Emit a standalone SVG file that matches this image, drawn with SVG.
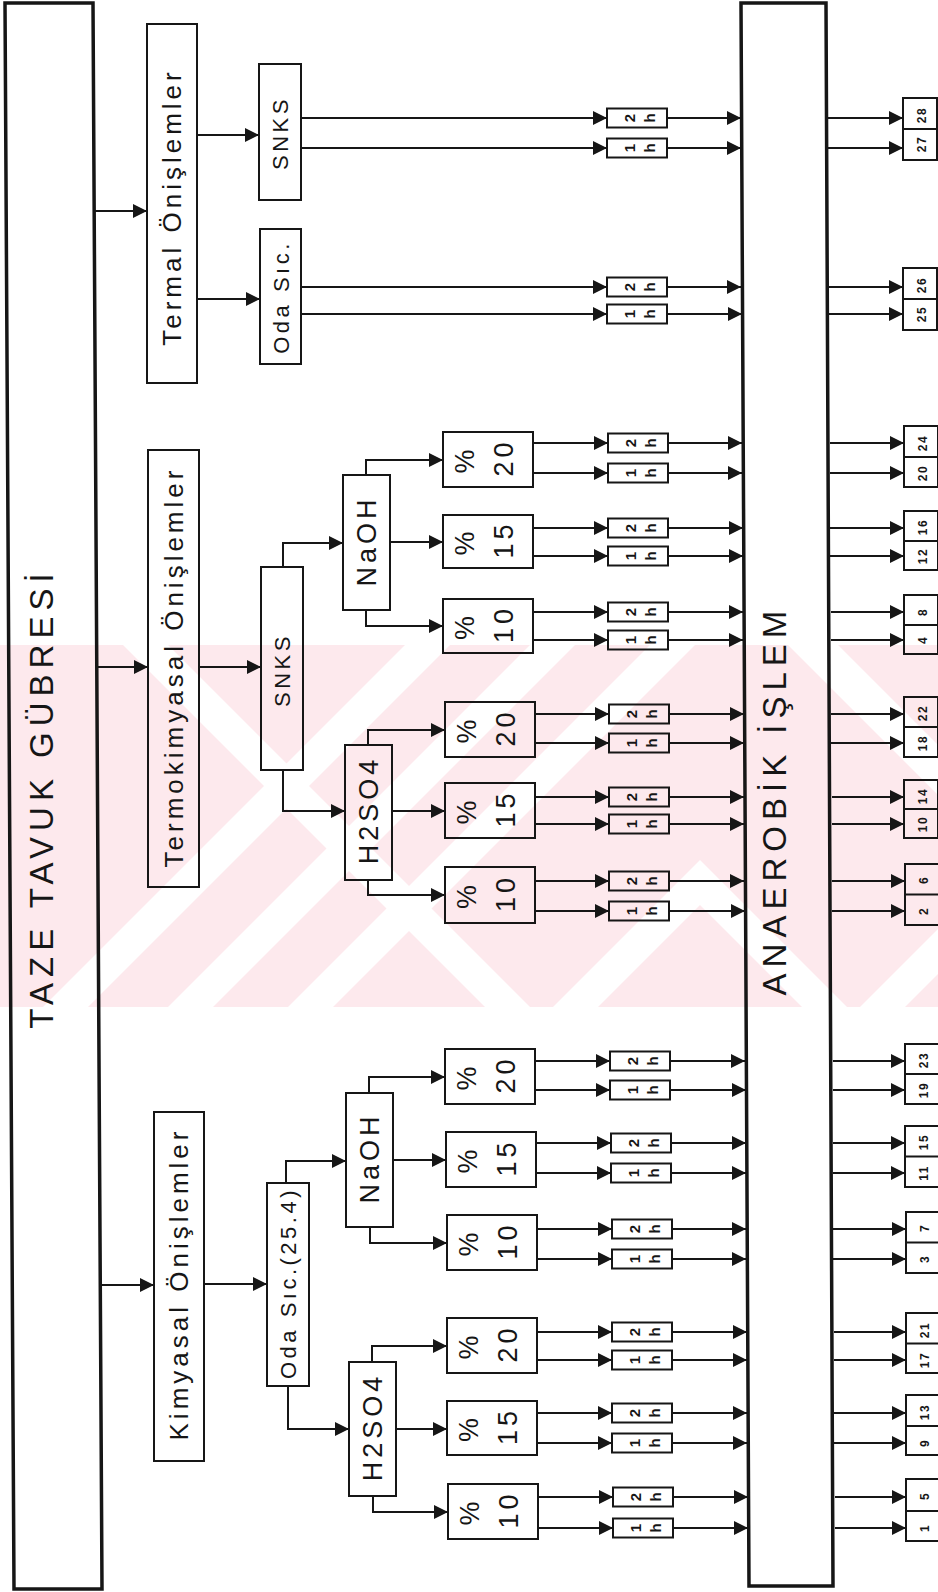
<svg xmlns="http://www.w3.org/2000/svg" width="938" height="1592" viewBox="0 0 938 1592">
<defs>
<marker id="ah" markerUnits="userSpaceOnUse" markerWidth="14" markerHeight="14" refX="14" refY="7" orient="auto"><path d="M0,0 L14,7 L0,14 z" fill="#161616"/></marker>
<clipPath id="wmclip"><rect x="0" y="645" width="938" height="362"/></clipPath>
</defs>
<style>
.b{fill:none;stroke:#161616;stroke-width:2}
.B{fill:none;stroke:#161616;stroke-width:3.5}
.l{fill:none;stroke:#161616;stroke-width:2}
.a{fill:none;stroke:#161616;stroke-width:2;marker-end:url(#ah)}
text{font-family:"Liberation Sans",Arial,sans-serif;fill:#161616;text-anchor:middle;dominant-baseline:central}
.big{font-size:33px;letter-spacing:6px}
.mid{font-size:26px;letter-spacing:4px}
.sm{font-size:22px;letter-spacing:3.5px}
.ch{font-size:27px;letter-spacing:4px}
.h{font-size:15px;font-weight:bold}
.n{font-size:12px;font-weight:bold;letter-spacing:1.5px}
</style>
<rect x="0" y="0" width="938" height="1592" fill="#ffffff"/>
<g id="watermark" clip-path="url(#wmclip)">
<rect x="0" y="645" width="938" height="362" fill="#fde9ed"/>
<g fill="#ffffff">
<polygon points="405,645 450,645 88,1007 43,1007"/>
<polygon points="530,645 575,645 213,1007 168,1007"/>
<polygon points="650,645 695,645 333,1007 288,1007"/>
<polygon points="123,645 168,645 530,1007 485,1007"/>
<polygon points="788,645 838,645 1200,1007 1150,1007"/>
<polygon points="553,1007 700,860 847,1007 802,1007 700,905 598,1007"/>
<polygon points="860,1007 905,1007 1267,645 1222,645"/>
</g>
</g>

<g id="connectors">
<line class="a" x1="94" y1="211" x2="147" y2="211"/>
<line class="a" x1="197" y1="135" x2="259" y2="135"/>
<line class="a" x1="197" y1="299" x2="260" y2="299"/>
<line class="a" x1="97" y1="667" x2="148" y2="667"/>
<line class="a" x1="199" y1="667" x2="261" y2="667"/>
<line class="a" x1="101" y1="1285" x2="154" y2="1285"/>
<line class="a" x1="204" y1="1284" x2="267" y2="1284"/>
<path class="a" d="M283,567 V543 H343"/>
<path class="a" d="M283,770 V811 H345"/>
<path class="a" d="M366,475 V460 H443"/>
<line class="a" x1="390" y1="542" x2="443" y2="542"/>
<path class="a" d="M366,610 V626 H443"/>
<path class="a" d="M368,745 V730 H445"/>
<line class="a" x1="392" y1="811" x2="445" y2="811"/>
<path class="a" d="M368,880 V895 H445"/>
<path class="a" d="M286,1183 V1161 H346"/>
<path class="a" d="M288,1386 V1429 H349"/>
<path class="a" d="M369,1093 V1077 H445"/>
<line class="a" x1="393" y1="1160" x2="446" y2="1160"/>
<path class="a" d="M370,1227 V1243 H447"/>
<path class="a" d="M372,1362 V1346 H447"/>
<line class="a" x1="396" y1="1429" x2="447" y2="1429"/>
<path class="a" d="M373,1496 V1512 H448"/>

<line class="a" x1="301" y1="118" x2="607" y2="118"/><line class="a" x1="667" y1="118" x2="741" y2="118"/><line class="a" x1="828" y1="118" x2="903" y2="118"/>
<line class="a" x1="301" y1="148" x2="607" y2="148"/><line class="a" x1="667" y1="148" x2="741" y2="148"/><line class="a" x1="828" y1="148" x2="903" y2="148"/>
<line class="a" x1="301" y1="287" x2="607" y2="287"/><line class="a" x1="667" y1="287" x2="741" y2="287"/><line class="a" x1="829" y1="287" x2="903" y2="287"/>
<line class="a" x1="301" y1="314" x2="607" y2="314"/><line class="a" x1="667" y1="314" x2="742" y2="314"/><line class="a" x1="829" y1="314" x2="903" y2="314"/>

<line class="a" x1="533" y1="443" x2="608" y2="443"/><line class="a" x1="668" y1="443" x2="742" y2="443"/><line class="a" x1="830" y1="443" x2="904" y2="443"/>
<line class="a" x1="533" y1="473" x2="608" y2="473"/><line class="a" x1="668" y1="473" x2="742" y2="473"/><line class="a" x1="830" y1="473" x2="904" y2="473"/>
<line class="a" x1="533" y1="528" x2="608" y2="528"/><line class="a" x1="668" y1="528" x2="743" y2="528"/><line class="a" x1="830" y1="528" x2="904" y2="528"/>
<line class="a" x1="533" y1="556" x2="608" y2="556"/><line class="a" x1="668" y1="556" x2="743" y2="556"/><line class="a" x1="830" y1="556" x2="904" y2="556"/>
<line class="a" x1="533" y1="612" x2="608" y2="612"/><line class="a" x1="668" y1="612" x2="743" y2="612"/><line class="a" x1="831" y1="612" x2="904" y2="612"/>
<line class="a" x1="533" y1="640" x2="608" y2="640"/><line class="a" x1="668" y1="640" x2="743" y2="640"/><line class="a" x1="831" y1="640" x2="904" y2="640"/>

<line class="a" x1="535" y1="714" x2="609" y2="714"/><line class="a" x1="669" y1="714" x2="744" y2="714"/><line class="a" x1="831" y1="714" x2="904" y2="714"/>
<line class="a" x1="535" y1="743" x2="609" y2="743"/><line class="a" x1="669" y1="743" x2="744" y2="743"/><line class="a" x1="831" y1="743" x2="904" y2="743"/>
<line class="a" x1="535" y1="797" x2="609" y2="797"/><line class="a" x1="669" y1="797" x2="744" y2="797"/><line class="a" x1="832" y1="797" x2="904" y2="797"/>
<line class="a" x1="535" y1="824" x2="609" y2="824"/><line class="a" x1="669" y1="824" x2="744" y2="824"/><line class="a" x1="832" y1="824" x2="904" y2="824"/>
<line class="a" x1="535" y1="881" x2="609" y2="881"/><line class="a" x1="669" y1="881" x2="744" y2="881"/><line class="a" x1="832" y1="881" x2="905" y2="881"/>
<line class="a" x1="535" y1="911" x2="609" y2="911"/><line class="a" x1="669" y1="911" x2="745" y2="911"/><line class="a" x1="832" y1="911" x2="905" y2="911"/>

<line class="a" x1="535" y1="1061" x2="610" y2="1061"/><line class="a" x1="670" y1="1061" x2="745" y2="1061"/><line class="a" x1="833" y1="1061" x2="905" y2="1061"/>
<line class="a" x1="535" y1="1090" x2="610" y2="1090"/><line class="a" x1="670" y1="1090" x2="746" y2="1090"/><line class="a" x1="833" y1="1090" x2="905" y2="1090"/>
<line class="a" x1="536" y1="1143" x2="611" y2="1143"/><line class="a" x1="671" y1="1143" x2="746" y2="1143"/><line class="a" x1="833" y1="1143" x2="905" y2="1143"/>
<line class="a" x1="536" y1="1173" x2="611" y2="1173"/><line class="a" x1="671" y1="1173" x2="746" y2="1173"/><line class="a" x1="833" y1="1173" x2="905" y2="1173"/>
<line class="a" x1="537" y1="1229" x2="612" y2="1229"/><line class="a" x1="672" y1="1229" x2="746" y2="1229"/><line class="a" x1="833" y1="1229" x2="906" y2="1229"/>
<line class="a" x1="537" y1="1259" x2="612" y2="1259"/><line class="a" x1="672" y1="1259" x2="746" y2="1259"/><line class="a" x1="833" y1="1259" x2="906" y2="1259"/>

<line class="a" x1="537" y1="1332" x2="612" y2="1332"/><line class="a" x1="672" y1="1332" x2="747" y2="1332"/><line class="a" x1="834" y1="1332" x2="906" y2="1332"/>
<line class="a" x1="537" y1="1360" x2="612" y2="1360"/><line class="a" x1="672" y1="1360" x2="747" y2="1360"/><line class="a" x1="834" y1="1360" x2="906" y2="1360"/>
<line class="a" x1="537" y1="1413" x2="612" y2="1413"/><line class="a" x1="672" y1="1413" x2="747" y2="1413"/><line class="a" x1="834" y1="1413" x2="906" y2="1413"/>
<line class="a" x1="537" y1="1443" x2="612" y2="1443"/><line class="a" x1="672" y1="1443" x2="747" y2="1443"/><line class="a" x1="834" y1="1443" x2="906" y2="1443"/>
<line class="a" x1="538" y1="1497" x2="613" y2="1497"/><line class="a" x1="673" y1="1497" x2="748" y2="1497"/><line class="a" x1="835" y1="1497" x2="906" y2="1497"/>
<line class="a" x1="538" y1="1528" x2="613" y2="1528"/><line class="a" x1="673" y1="1528" x2="748" y2="1528"/><line class="a" x1="835" y1="1528" x2="906" y2="1528"/>
</g>

<g id="taze"><polygon class="B" points="5,3 93,3 102,1589 14,1589"/><text class="big" x="41" y="798" transform="rotate(-90 41 798)">TAZE TAVUK GÜBRESİ</text></g>
<g id="anaerobik"><polygon class="B" points="741,3 826,3 833,1586 749,1586"/><text class="big" x="774" y="800" transform="rotate(-90 774 800)">ANAEROBİK İŞLEM</text></g>

<g id="termal"><rect class="b" x="147" y="24" width="50" height="359"/><text class="mid" x="172" y="207" transform="rotate(-90 172 207)">Termal Önişlemler</text></g>
<g id="termal-snks"><rect class="b" x="259" y="64" width="42" height="136"/><text class="sm" x="280" y="133" transform="rotate(-90 280 133)">SNKS</text></g>
<g id="termal-oda"><rect class="b" x="260" y="229" width="41" height="135"/><text class="sm" x="281" y="297" transform="rotate(-90 281 297)">Oda Sıc.</text></g>

<g id="termokimyasal"><rect class="b" x="148" y="450" width="51" height="437"/><text class="mid" x="174" y="667" transform="rotate(-90 174 667)">Termokimyasal Önişlemler</text></g>
<g id="termo-snks"><rect class="b" x="261" y="567" width="42" height="203"/><text class="sm" x="282" y="670" transform="rotate(-90 282 670)">SNKS</text></g>
<g id="termo-naoh"><rect class="b" x="343" y="475" width="47" height="135"/><text class="ch" x="367" y="541" transform="rotate(-90 367 541)">NaOH</text></g>
<g id="termo-h2so4"><rect class="b" x="345" y="745" width="47" height="135"/><text class="ch" x="369" y="810" transform="rotate(-90 369 810)">H2SO4</text></g>

<g id="kimyasal"><rect class="b" x="154" y="1112" width="50" height="349"/><text class="mid" x="179" y="1284" transform="rotate(-90 179 1284)">Kimyasal Önişlemler</text></g>
<g id="kim-oda"><rect class="b" x="267" y="1183" width="42" height="203"/><text class="sm" x="288" y="1283" transform="rotate(-90 288 1283)">Oda Sıc.(25.4)</text></g>
<g id="kim-naoh"><rect class="b" x="346" y="1093" width="47" height="134"/><text class="ch" x="370" y="1158" transform="rotate(-90 370 1158)">NaOH</text></g>
<g id="kim-h2so4"><rect class="b" x="349" y="1362" width="47" height="134"/><text class="ch" x="373" y="1427" transform="rotate(-90 373 1427)">H2SO4</text></g>

<g id="p-t-naoh-20"><rect class="b" x="443" y="432" width="90" height="55"/><text class="ch" x="465" y="459.5" transform="rotate(-90 465 459.5)">%</text><text class="ch" x="504" y="457.5" transform="rotate(-90 504 457.5)">20</text></g>
<g id="p-t-naoh-15"><rect class="b" x="443" y="515" width="90" height="53"/><text class="ch" x="465" y="541.5" transform="rotate(-90 465 541.5)">%</text><text class="ch" x="504" y="539.5" transform="rotate(-90 504 539.5)">15</text></g>
<g id="p-t-naoh-10"><rect class="b" x="443" y="599" width="90" height="54"/><text class="ch" x="465" y="626" transform="rotate(-90 465 626)">%</text><text class="ch" x="504" y="624" transform="rotate(-90 504 624)">10</text></g>
<g id="p-t-h2so4-20"><rect class="b" x="445" y="702" width="90" height="55"/><text class="ch" x="467" y="729.5" transform="rotate(-90 467 729.5)">%</text><text class="ch" x="506" y="727.5" transform="rotate(-90 506 727.5)">20</text></g>
<g id="p-t-h2so4-15"><rect class="b" x="445" y="783" width="90" height="55"/><text class="ch" x="467" y="810.5" transform="rotate(-90 467 810.5)">%</text><text class="ch" x="506" y="808.5" transform="rotate(-90 506 808.5)">15</text></g>
<g id="p-t-h2so4-10"><rect class="b" x="445" y="867" width="90" height="56"/><text class="ch" x="467" y="895" transform="rotate(-90 467 895)">%</text><text class="ch" x="506" y="893" transform="rotate(-90 506 893)">10</text></g>
<g id="p-k-naoh-20"><rect class="b" x="445" y="1049" width="90" height="55"/><text class="ch" x="467" y="1076.5" transform="rotate(-90 467 1076.5)">%</text><text class="ch" x="506" y="1074.5" transform="rotate(-90 506 1074.5)">20</text></g>
<g id="p-k-naoh-15"><rect class="b" x="446" y="1132" width="90" height="55"/><text class="ch" x="468" y="1159.5" transform="rotate(-90 468 1159.5)">%</text><text class="ch" x="507" y="1157.5" transform="rotate(-90 507 1157.5)">15</text></g>
<g id="p-k-naoh-10"><rect class="b" x="447" y="1215" width="90" height="55"/><text class="ch" x="469" y="1242.5" transform="rotate(-90 469 1242.5)">%</text><text class="ch" x="508" y="1240.5" transform="rotate(-90 508 1240.5)">10</text></g>
<g id="p-k-h2so4-20"><rect class="b" x="447" y="1318" width="90" height="55"/><text class="ch" x="469" y="1345.5" transform="rotate(-90 469 1345.5)">%</text><text class="ch" x="508" y="1343.5" transform="rotate(-90 508 1343.5)">20</text></g>
<g id="p-k-h2so4-15"><rect class="b" x="447" y="1401" width="90" height="54"/><text class="ch" x="469" y="1428" transform="rotate(-90 469 1428)">%</text><text class="ch" x="508" y="1426" transform="rotate(-90 508 1426)">15</text></g>
<g id="p-k-h2so4-10"><rect class="b" x="448" y="1484" width="90" height="55"/><text class="ch" x="470" y="1511.5" transform="rotate(-90 470 1511.5)">%</text><text class="ch" x="509" y="1509.5" transform="rotate(-90 509 1509.5)">10</text></g>

<g id="h-28"><rect class="b" x="607" y="108.5" width="60" height="19"/><text class="h" x="629" y="118" transform="rotate(-90 629 118)">2</text><text class="h" x="649" y="118" transform="rotate(-90 649 118)">h</text></g>
<g id="h-27"><rect class="b" x="607" y="138.5" width="60" height="19"/><text class="h" x="629" y="148" transform="rotate(-90 629 148)">1</text><text class="h" x="649" y="148" transform="rotate(-90 649 148)">h</text></g>
<g id="h-26"><rect class="b" x="607" y="277.5" width="60" height="19"/><text class="h" x="629" y="287" transform="rotate(-90 629 287)">2</text><text class="h" x="649" y="287" transform="rotate(-90 649 287)">h</text></g>
<g id="h-25"><rect class="b" x="607" y="304.5" width="60" height="19"/><text class="h" x="629" y="314" transform="rotate(-90 629 314)">1</text><text class="h" x="649" y="314" transform="rotate(-90 649 314)">h</text></g>
<g id="h-24"><rect class="b" x="608" y="433.5" width="60" height="19"/><text class="h" x="630" y="443" transform="rotate(-90 630 443)">2</text><text class="h" x="650" y="443" transform="rotate(-90 650 443)">h</text></g>
<g id="h-20"><rect class="b" x="608" y="463.5" width="60" height="19"/><text class="h" x="630" y="473" transform="rotate(-90 630 473)">1</text><text class="h" x="650" y="473" transform="rotate(-90 650 473)">h</text></g>
<g id="h-16"><rect class="b" x="608" y="518.5" width="60" height="19"/><text class="h" x="630" y="528" transform="rotate(-90 630 528)">2</text><text class="h" x="650" y="528" transform="rotate(-90 650 528)">h</text></g>
<g id="h-12"><rect class="b" x="608" y="546.5" width="60" height="19"/><text class="h" x="630" y="556" transform="rotate(-90 630 556)">1</text><text class="h" x="650" y="556" transform="rotate(-90 650 556)">h</text></g>
<g id="h-8"><rect class="b" x="608" y="602.5" width="60" height="19"/><text class="h" x="630" y="612" transform="rotate(-90 630 612)">2</text><text class="h" x="650" y="612" transform="rotate(-90 650 612)">h</text></g>
<g id="h-4"><rect class="b" x="608" y="630.5" width="60" height="19"/><text class="h" x="630" y="640" transform="rotate(-90 630 640)">1</text><text class="h" x="650" y="640" transform="rotate(-90 650 640)">h</text></g>
<g id="h-22"><rect class="b" x="609" y="704.5" width="60" height="19"/><text class="h" x="631" y="714" transform="rotate(-90 631 714)">2</text><text class="h" x="651" y="714" transform="rotate(-90 651 714)">h</text></g>
<g id="h-18"><rect class="b" x="609" y="733.5" width="60" height="19"/><text class="h" x="631" y="743" transform="rotate(-90 631 743)">1</text><text class="h" x="651" y="743" transform="rotate(-90 651 743)">h</text></g>
<g id="h-14"><rect class="b" x="609" y="787.5" width="60" height="19"/><text class="h" x="631" y="797" transform="rotate(-90 631 797)">2</text><text class="h" x="651" y="797" transform="rotate(-90 651 797)">h</text></g>
<g id="h-10"><rect class="b" x="609" y="814.5" width="60" height="19"/><text class="h" x="631" y="824" transform="rotate(-90 631 824)">1</text><text class="h" x="651" y="824" transform="rotate(-90 651 824)">h</text></g>
<g id="h-6"><rect class="b" x="609" y="871.5" width="60" height="19"/><text class="h" x="631" y="881" transform="rotate(-90 631 881)">2</text><text class="h" x="651" y="881" transform="rotate(-90 651 881)">h</text></g>
<g id="h-2"><rect class="b" x="609" y="901.5" width="60" height="19"/><text class="h" x="631" y="911" transform="rotate(-90 631 911)">1</text><text class="h" x="651" y="911" transform="rotate(-90 651 911)">h</text></g>
<g id="h-23"><rect class="b" x="610" y="1051.5" width="60" height="19"/><text class="h" x="632" y="1061" transform="rotate(-90 632 1061)">2</text><text class="h" x="652" y="1061" transform="rotate(-90 652 1061)">h</text></g>
<g id="h-19"><rect class="b" x="610" y="1080.5" width="60" height="19"/><text class="h" x="632" y="1090" transform="rotate(-90 632 1090)">1</text><text class="h" x="652" y="1090" transform="rotate(-90 652 1090)">h</text></g>
<g id="h-15"><rect class="b" x="611" y="1133.5" width="60" height="19"/><text class="h" x="633" y="1143" transform="rotate(-90 633 1143)">2</text><text class="h" x="653" y="1143" transform="rotate(-90 653 1143)">h</text></g>
<g id="h-11"><rect class="b" x="611" y="1163.5" width="60" height="19"/><text class="h" x="633" y="1173" transform="rotate(-90 633 1173)">1</text><text class="h" x="653" y="1173" transform="rotate(-90 653 1173)">h</text></g>
<g id="h-7"><rect class="b" x="612" y="1219.5" width="60" height="19"/><text class="h" x="634" y="1229" transform="rotate(-90 634 1229)">2</text><text class="h" x="654" y="1229" transform="rotate(-90 654 1229)">h</text></g>
<g id="h-3"><rect class="b" x="612" y="1249.5" width="60" height="19"/><text class="h" x="634" y="1259" transform="rotate(-90 634 1259)">1</text><text class="h" x="654" y="1259" transform="rotate(-90 654 1259)">h</text></g>
<g id="h-21"><rect class="b" x="612" y="1322.5" width="60" height="19"/><text class="h" x="634" y="1332" transform="rotate(-90 634 1332)">2</text><text class="h" x="654" y="1332" transform="rotate(-90 654 1332)">h</text></g>
<g id="h-17"><rect class="b" x="612" y="1350.5" width="60" height="19"/><text class="h" x="634" y="1360" transform="rotate(-90 634 1360)">1</text><text class="h" x="654" y="1360" transform="rotate(-90 654 1360)">h</text></g>
<g id="h-13"><rect class="b" x="612" y="1403.5" width="60" height="19"/><text class="h" x="634" y="1413" transform="rotate(-90 634 1413)">2</text><text class="h" x="654" y="1413" transform="rotate(-90 654 1413)">h</text></g>
<g id="h-9"><rect class="b" x="612" y="1433.5" width="60" height="19"/><text class="h" x="634" y="1443" transform="rotate(-90 634 1443)">1</text><text class="h" x="654" y="1443" transform="rotate(-90 654 1443)">h</text></g>
<g id="h-5"><rect class="b" x="613" y="1487.5" width="60" height="19"/><text class="h" x="635" y="1497" transform="rotate(-90 635 1497)">2</text><text class="h" x="655" y="1497" transform="rotate(-90 655 1497)">h</text></g>
<g id="h-1"><rect class="b" x="613" y="1518.5" width="60" height="19"/><text class="h" x="635" y="1528" transform="rotate(-90 635 1528)">1</text><text class="h" x="655" y="1528" transform="rotate(-90 655 1528)">h</text></g>

<g id="n-28-27"><rect class="b" x="903" y="98" width="34" height="62"/><line class="l" x1="903" y1="129" x2="937" y2="129"/><text class="n" x="922" y="115" transform="rotate(-90 922 115)">28</text><text class="n" x="922" y="144" transform="rotate(-90 922 144)">27</text></g>
<g id="n-26-25"><rect class="b" x="903" y="268" width="34" height="62"/><line class="l" x1="903" y1="299" x2="937" y2="299"/><text class="n" x="922" y="285" transform="rotate(-90 922 285)">26</text><text class="n" x="922" y="314" transform="rotate(-90 922 314)">25</text></g>
<g id="n-24-20"><rect class="b" x="904" y="426" width="34" height="61"/><line class="l" x1="904" y1="457" x2="938" y2="457"/><text class="n" x="923" y="443" transform="rotate(-90 923 443)">24</text><text class="n" x="923" y="473" transform="rotate(-90 923 473)">20</text></g>
<g id="n-16-12"><rect class="b" x="904" y="511" width="34" height="59"/><line class="l" x1="904" y1="541" x2="938" y2="541"/><text class="n" x="923" y="527" transform="rotate(-90 923 527)">16</text><text class="n" x="923" y="556" transform="rotate(-90 923 556)">12</text></g>
<g id="n-8-4"><rect class="b" x="904" y="595" width="34" height="59"/><line class="l" x1="904" y1="625" x2="938" y2="625"/><text class="n" x="923" y="612" transform="rotate(-90 923 612)">8</text><text class="n" x="923" y="640" transform="rotate(-90 923 640)">4</text></g>
<g id="n-22-18"><rect class="b" x="904" y="697" width="34" height="60"/><line class="l" x1="904" y1="727" x2="938" y2="727"/><text class="n" x="923" y="713" transform="rotate(-90 923 713)">22</text><text class="n" x="923" y="743" transform="rotate(-90 923 743)">18</text></g>
<g id="n-14-10"><rect class="b" x="904" y="780" width="34" height="58"/><line class="l" x1="904" y1="809" x2="938" y2="809"/><text class="n" x="923" y="796" transform="rotate(-90 923 796)">14</text><text class="n" x="923" y="824" transform="rotate(-90 923 824)">10</text></g>
<g id="n-6-2"><rect class="b" x="905" y="864" width="34" height="61"/><line class="l" x1="905" y1="894.5" x2="939" y2="894.5"/><text class="n" x="924" y="880" transform="rotate(-90 924 880)">6</text><text class="n" x="924" y="911" transform="rotate(-90 924 911)">2</text></g>
<g id="n-23-19"><rect class="b" x="905" y="1044" width="34" height="60"/><line class="l" x1="905" y1="1074" x2="939" y2="1074"/><text class="n" x="924" y="1060" transform="rotate(-90 924 1060)">23</text><text class="n" x="924" y="1090" transform="rotate(-90 924 1090)">19</text></g>
<g id="n-15-11"><rect class="b" x="905" y="1126" width="34" height="61"/><line class="l" x1="905" y1="1156.5" x2="939" y2="1156.5"/><text class="n" x="924" y="1142" transform="rotate(-90 924 1142)">15</text><text class="n" x="924" y="1173" transform="rotate(-90 924 1173)">11</text></g>
<g id="n-7-3"><rect class="b" x="906" y="1212" width="34" height="61"/><line class="l" x1="906" y1="1242.5" x2="940" y2="1242.5"/><text class="n" x="925" y="1228" transform="rotate(-90 925 1228)">7</text><text class="n" x="925" y="1259" transform="rotate(-90 925 1259)">3</text></g>
<g id="n-21-17"><rect class="b" x="906" y="1313" width="34" height="60"/><line class="l" x1="906" y1="1343.5" x2="940" y2="1343.5"/><text class="n" x="925" y="1330" transform="rotate(-90 925 1330)">21</text><text class="n" x="925" y="1360" transform="rotate(-90 925 1360)">17</text></g>
<g id="n-13-9"><rect class="b" x="906" y="1395" width="34" height="60"/><line class="l" x1="906" y1="1426" x2="940" y2="1426"/><text class="n" x="925" y="1412" transform="rotate(-90 925 1412)">13</text><text class="n" x="925" y="1443" transform="rotate(-90 925 1443)">9</text></g>
<g id="n-5-1"><rect class="b" x="906" y="1479" width="34" height="62"/><line class="l" x1="906" y1="1511" x2="940" y2="1511"/><text class="n" x="925" y="1496" transform="rotate(-90 925 1496)">5</text><text class="n" x="925" y="1528" transform="rotate(-90 925 1528)">1</text></g>
</svg>
